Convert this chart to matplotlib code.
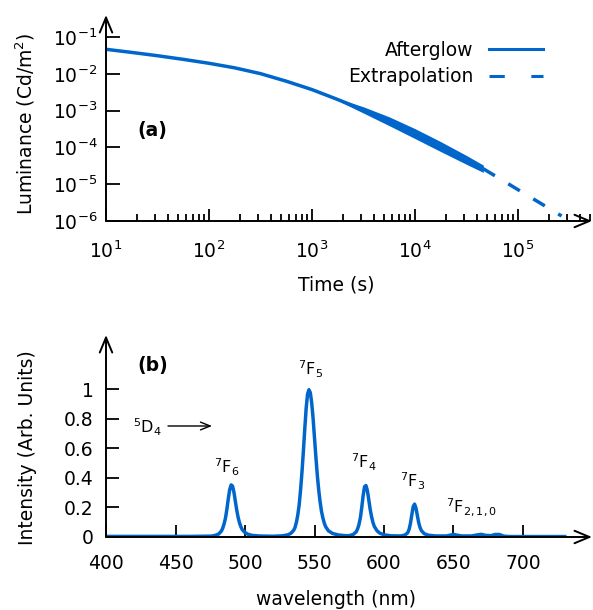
import numpy as np
import matplotlib
matplotlib.use("Agg")
import matplotlib.pyplot as plt
from matplotlib.lines import Line2D
from matplotlib.ticker import FixedLocator, LogLocator, NullLocator, FixedFormatter, LogFormatterMathtext

plt.rcParams['font.family'] = ['DejaVu Sans']
plt.rcParams['axes.unicode_minus'] = False
plt.rcParams['mathtext.fontset'] = 'dejavusans'

# ---------------- data: panel (a) afterglow ----------------
afterglow_time = [10, 17.8, 31.6, 56.2, 100, 178, 316, 562, 1000, 1778,
                  3162, 5623, 1.0e4, 1.778e4, 3.162e4, 4.6e4]
afterglow_lum = [0.0463, 0.0381, 0.0310, 0.0247, 0.0193, 0.0145, 0.0101,
                 0.0063, 0.00372, 0.0020, 0.00104, 5.13e-4, 2.37e-4,
                 1.05e-4, 4.57e-5, 2.63e-5]
# half-width of the noisy band around the measured curve (decades)
afterglow_noise = [0, 0, 0, 0, 0, 0, 0, 0, 0, 0.03,
                   0.085, 0.12, 0.135, 0.135, 0.12, 0.10]
extrap_time = [4.6e4, 2.65e5]
extrap_lum = [2.63e-5, 1.37e-6]
lum_ticks = [1e-6, 1e-5, 1e-4, 1e-3, 1e-2, 1e-1]
time_ticks = [1e1, 1e2, 1e3, 1e4, 1e5]

# ---------------- data: panel (b) emission spectrum ----------------
wavelength = [400, 430, 460, 476, 479, 481, 483, 484, 485, 486, 487, 488, 489,
              490, 491, 492, 493, 494, 495, 496, 497, 498, 500, 502, 505, 510,
              520, 527, 531, 533, 535, 536, 537, 538, 539, 540, 541, 542, 543,
              544, 545, 546, 547, 548, 549, 550, 551, 552, 553, 554, 555, 556,
              557, 558, 560, 563, 567, 572, 575, 578, 580, 581, 582, 583, 584,
              585, 586, 587, 588, 589, 590, 591, 592, 593, 595, 597, 600, 605,
              612, 615, 617, 618, 619, 620, 621, 622, 623, 624, 625, 626, 627,
              629, 632, 637, 645, 648, 650, 652, 656, 663, 667, 670, 673, 677,
              680, 683, 686, 690, 700, 730]
intensity = [0.004, 0.004, 0.004, 0.006, 0.012, 0.020, 0.040, 0.060, 0.090,
             0.130, 0.190, 0.260, 0.320, 0.352, 0.345, 0.305, 0.245, 0.185,
             0.135, 0.097, 0.070, 0.050, 0.030, 0.019, 0.011, 0.007, 0.005,
             0.008, 0.015, 0.025, 0.045, 0.065, 0.100, 0.150, 0.220, 0.320,
             0.440, 0.580, 0.730, 0.870, 0.965, 0.995, 0.975, 0.905, 0.800,
             0.670, 0.540, 0.420, 0.320, 0.240, 0.175, 0.130, 0.095, 0.070,
             0.042, 0.024, 0.014, 0.009, 0.009, 0.018, 0.035, 0.055, 0.085,
             0.130, 0.200, 0.280, 0.340, 0.348, 0.315, 0.255, 0.190, 0.140,
             0.100, 0.072, 0.042, 0.026, 0.015, 0.008, 0.007, 0.013, 0.028,
             0.050, 0.090, 0.150, 0.205, 0.222, 0.195, 0.145, 0.095, 0.062,
             0.042, 0.022, 0.012, 0.007, 0.007, 0.013, 0.018, 0.013, 0.007,
             0.007, 0.014, 0.018, 0.011, 0.009, 0.017, 0.017, 0.006, 0.003,
             0.003, 0.003]
wl_ticks = [400, 450, 500, 550, 600, 650, 700]
int_ticks = [0, 0.2, 0.4, 0.6, 0.8, 1.0]
int_ticklabels = ["0", "0.2", "0.4", "0.6", "0.8", "1"]

peak_labels = [r"$\mathregular{^7F_6}$", r"$\mathregular{^7F_5}$",
               r"$\mathregular{^7F_4}$", r"$\mathregular{^7F_3}$",
               r"$\mathregular{^7F_{2,1,0}}$"]
peak_label_x = [487, 546.8, 585.6, 620.9, 663]
peak_label_y = [0.473, 1.135, 0.507, 0.378, 0.20]

BLUE = '#0066cc'
FS = 13.5

W, H = 593, 610
fig = plt.figure(figsize=(W / 100, H / 100), dpi=100)

def axes_px(left, right, bottom, top):
    return fig.add_axes([left / W, 1 - bottom / H, (right - left) / W, (bottom - top) / H])

def arrow_axes(ax):
    for s in ax.spines.values():
        s.set_visible(False)
    style = '->,head_length=0.6,head_width=0.25'
    kw = dict(arrowstyle=style, lw=1.4, color='black', shrinkA=0, shrinkB=0,
              mutation_scale=18)
    ax.annotate('', xy=(1, 0), xytext=(0, 0), xycoords='axes fraction',
                textcoords='axes fraction', arrowprops=kw, annotation_clip=False)
    ax.annotate('', xy=(0, 1), xytext=(0, 0), xycoords='axes fraction',
                textcoords='axes fraction', arrowprops=kw, annotation_clip=False)

# ---------------- panel (a) ----------------
ax1 = axes_px(106, 592, 221, 15)
ax1.set_xscale('log')
ax1.set_yscale('log')
ax1.set_xlim(10, 10 ** (1 + 486 / 103))
ax1.set_ylim(1e-6, 10 ** (-6 + 206 / 36.8))

t = np.array(afterglow_time)
L = np.array(afterglow_lum)
s = np.array(afterglow_noise)
band = s > 0
ax1.fill_between(t[band], L[band] * 10 ** (-s[band]), L[band] * 10 ** (s[band]),
                 color=BLUE, lw=0)
ax1.plot(t, L, color=BLUE, lw=2.5, solid_capstyle='butt')
ax1.plot(extrap_time, extrap_lum, color=BLUE, lw=2.5, dashes=(3.9, 4.5))

ax1.yaxis.set_major_locator(FixedLocator(lum_ticks))
ax1.yaxis.set_minor_locator(NullLocator())
ax1.yaxis.set_major_formatter(LogFormatterMathtext())
ax1.xaxis.set_major_locator(FixedLocator(time_ticks))
ax1.xaxis.set_minor_locator(LogLocator(base=10, subs=np.arange(2, 10), numticks=30))
ax1.xaxis.set_major_formatter(LogFormatterMathtext())
ax1.tick_params(axis='x', which='major', direction='in', length=9, width=1.3,
                pad=14, labelsize=FS)
ax1.tick_params(axis='x', which='minor', direction='in', length=5, width=1.3)
ax1.tick_params(axis='y', which='major', direction='in', length=10, width=1.3,
                pad=6, labelsize=FS)
arrow_axes(ax1)

ax1.set_xlabel('Time (s)', fontsize=FS)
ax1.set_ylabel(r'Luminance (Cd/m$^2$)', fontsize=FS)
ax1.xaxis.set_label_coords(0.473, -0.265)
ax1.yaxis.set_label_coords(-0.142, 0.471)
ax1.text(0.0957, 0.437, '(a)', transform=ax1.transAxes, fontsize=FS,
         fontweight='bold', ha='center', va='center')

handles = [Line2D([], [], color=BLUE, lw=2.2),
           Line2D([], [], color=BLUE, lw=2.2, dashes=(5, 8.7))]
ax1.legend(handles, ['Afterglow', 'Extrapolation'], loc='upper right',
           bbox_to_anchor=(543 / W, 1 - 41 / H), bbox_transform=fig.transFigure,
           frameon=False, markerfirst=False, handlelength=2.9, handletextpad=0.8,
           labelspacing=0.4, borderpad=0, borderaxespad=0, fontsize=FS)

# ---------------- panel (b) ----------------
ax2 = axes_px(106, 592, 537, 335)
ax2.set_xlim(400, 400 + 486 / 1.39)
ax2.set_ylim(0, 202 / 148)
ax2.plot(wavelength, intensity, color=BLUE, lw=2.5)

ax2.xaxis.set_major_locator(FixedLocator(wl_ticks))
ax2.yaxis.set_major_locator(FixedLocator(int_ticks))
ax2.yaxis.set_major_formatter(FixedFormatter(int_ticklabels))
ax2.tick_params(axis='x', direction='in', length=9, width=1.3, pad=12, labelsize=FS)
ax2.tick_params(axis='y', direction='in', length=9, width=1.3, pad=9, labelsize=FS)
arrow_axes(ax2)

ax2.set_xlabel('wavelength (nm)', fontsize=FS)
ax2.set_ylabel('Intensity (Arb. Units)', fontsize=FS)
ax2.xaxis.set_label_coords(0.473, -0.262)
ax2.yaxis.set_label_coords(-0.142, 0.44)
ax2.text(433.5, 1.162, '(b)', fontsize=FS, fontweight='bold', ha='center', va='center')

for lab, x, y in zip(peak_labels, peak_label_x, peak_label_y):
    ax2.text(x, y, lab, fontsize=11.5, ha='center', va='center')

ax2.text(429.8, 0.743, r"$\mathregular{^5D_4}$", fontsize=11.5, ha='center', va='center')
ax2.annotate('', xy=(476.3, 0.75), xytext=(444.6, 0.75),
             arrowprops=dict(arrowstyle='->,head_length=0.5,head_width=0.2',
                             lw=1.0, color='black', shrinkA=0, shrinkB=0,
                             mutation_scale=14))

fig.savefig('out.png', dpi=100)
